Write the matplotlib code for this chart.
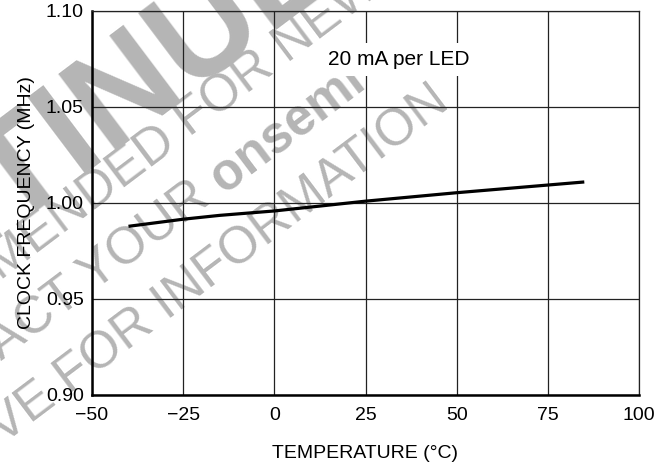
import numpy as np
import matplotlib
matplotlib.use("Agg")
import matplotlib.pyplot as plt

plt.rcParams['font.family'] = ['Liberation Sans', 'DejaVu Sans']

# data
temperature = [-40, -25, -15, 0, 25, 50, 75, 85]
clock_freq = [0.9877, 0.9914, 0.9934, 0.9957, 1.0008, 1.0052, 1.0092, 1.0108]

x_ticks = [-50, -25, 0, 25, 50, 75, 100]
x_tick_labels = ['\u221250', '\u221225', '0', '25', '50', '75', '100']
y_ticks = [0.90, 0.95, 1.00, 1.05, 1.10]
y_tick_labels = ['0.90', '0.95', '1.00', '1.05', '1.10']

W, H = 665, 468
fig = plt.figure(figsize=(W / 100, H / 100), dpi=100)
ax = fig.add_axes([92 / W, 1 - 394.7 / H, (639 - 92) / W, (394.7 - 10.7) / H])
ax.patch.set_alpha(0)

# watermark (drawn under the axes)
wm = '#b5b5b5'
ang = 37


def px(x, y):
    return x / W, 1 - y / H


def wm_line(pre, post, x, y, size, weight='normal', post_weight=None):
    fx, fy = px(x, y)
    fig.text(fx, fy, pre, ha='right', va='baseline', rotation=ang,
             rotation_mode='anchor', color=wm, fontsize=size,
             fontweight=weight, zorder=-1)
    fig.text(fx, fy, post, ha='left', va='baseline', rotation=ang,
             rotation_mode='anchor', color=wm, fontsize=size,
             fontweight=post_weight or weight, zorder=-1)


wm_line('DISCONTIN', 'UED', 188, 90, 100, weight='bold')
wm_line('NOT RECOMMENDED ', 'FOR NEW DESIGN', 190, 138, 37)
wm_line('CONTACT YOUR ', 'onsemi', 224, 194, 37, post_weight='bold')
wm_line('REPRESENTATIVE ', 'FOR INFORMATION', 70, 395, 37)

ax.plot(temperature, clock_freq, color='black', lw=2.3,
        solid_capstyle='butt', zorder=3)

ax.set_xlim(-50, 100)
ax.set_ylim(0.90, 1.10)
ax.set_xticks(x_ticks)
ax.set_xticklabels(x_tick_labels)
ax.set_yticks(y_ticks)
ax.set_yticklabels(y_tick_labels)
ax.tick_params(length=0, labelsize=14, colors='black')
ax.tick_params(axis='x', pad=9)
ax.tick_params(axis='y', pad=6)
ax.grid(True, color='#222222', lw=0.9)
ax.set_axisbelow(True)

for side in ['top', 'right']:
    ax.spines[side].set_linewidth(0.9)
    ax.spines[side].set_color('#222222')
for side in ['left', 'bottom']:
    ax.spines[side].set_linewidth(1.8)
    ax.spines[side].set_color('black')

ax.set_xlabel('TEMPERATURE (\u00b0C)', fontsize=14, labelpad=15)
ax.set_ylabel('CLOCK FREQUENCY (MHz)', fontsize=14, labelpad=8)

ax.text(14.7, 1.0744, '20 mA per LED', fontsize=15, ha='left', va='center',
        bbox=dict(facecolor='white', edgecolor='none', pad=5), zorder=4)

fig.savefig('out.png', dpi=100)
